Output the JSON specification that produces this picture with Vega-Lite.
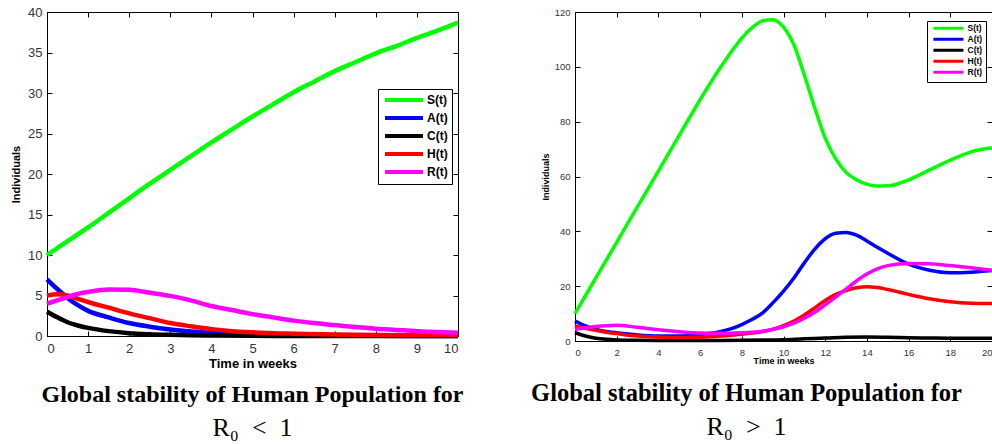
{
  "$schema": "https://vega.github.io/schema/vega-lite/v6.json",
  "background": "white",
  "padding": {"left": 10, "top": 5, "right": 0, "bottom": 0},
  "spacing": 117,
  "bounds": "flush",
  "resolve": {"scale": {"color": "independent"}, "legend": {"color": "independent"}},
  "config": {
    "view": {"stroke": "black", "strokeWidth": 1},
    "axis": {"grid": false, "domainColor": "black", "tickColor": "black", "labelFont": "Liberation Sans", "labelColor": "#333333", "titleFont": "Liberation Sans", "titleFontWeight": "bold", "titleColor": "black"},
    "legend": {"labelFont": "Liberation Sans", "labelFontWeight": "bold", "labelColor": "black"}
  },
  "datasets": {
    "low": [
      {"t": 0, "s": "S(t)", "v": 10}, {"t": 0.5, "s": "S(t)", "v": 11.7}, {"t": 1, "s": "S(t)", "v": 13.4}, {"t": 1.5, "s": "S(t)", "v": 15.2}, {"t": 2, "s": "S(t)", "v": 17.0}, {"t": 2.5, "s": "S(t)", "v": 18.8}, {"t": 3, "s": "S(t)", "v": 20.5}, {"t": 3.5, "s": "S(t)", "v": 22.2}, {"t": 4, "s": "S(t)", "v": 23.9}, {"t": 4.5, "s": "S(t)", "v": 25.5}, {"t": 5, "s": "S(t)", "v": 27.1}, {"t": 5.5, "s": "S(t)", "v": 28.6}, {"t": 6, "s": "S(t)", "v": 30.1}, {"t": 6.5, "s": "S(t)", "v": 31.4}, {"t": 7, "s": "S(t)", "v": 32.7}, {"t": 7.5, "s": "S(t)", "v": 33.8}, {"t": 8, "s": "S(t)", "v": 34.9}, {"t": 8.5, "s": "S(t)", "v": 35.8}, {"t": 9, "s": "S(t)", "v": 36.8}, {"t": 9.5, "s": "S(t)", "v": 37.7}, {"t": 10, "s": "S(t)", "v": 38.7},
      {"t": 0, "s": "A(t)", "v": 7.0}, {"t": 0.25, "s": "A(t)", "v": 5.8}, {"t": 0.5, "s": "A(t)", "v": 4.7}, {"t": 0.75, "s": "A(t)", "v": 3.8}, {"t": 1, "s": "A(t)", "v": 3.1}, {"t": 1.5, "s": "A(t)", "v": 2.3}, {"t": 2, "s": "A(t)", "v": 1.6}, {"t": 2.5, "s": "A(t)", "v": 1.15}, {"t": 3, "s": "A(t)", "v": 0.8}, {"t": 3.5, "s": "A(t)", "v": 0.55}, {"t": 4, "s": "A(t)", "v": 0.38}, {"t": 5, "s": "A(t)", "v": 0.18}, {"t": 6, "s": "A(t)", "v": 0.08}, {"t": 7, "s": "A(t)", "v": 0.04}, {"t": 8, "s": "A(t)", "v": 0.02}, {"t": 9, "s": "A(t)", "v": 0.01}, {"t": 10, "s": "A(t)", "v": 0.0},
      {"t": 0, "s": "C(t)", "v": 3.0}, {"t": 0.25, "s": "C(t)", "v": 2.3}, {"t": 0.5, "s": "C(t)", "v": 1.7}, {"t": 0.75, "s": "C(t)", "v": 1.3}, {"t": 1, "s": "C(t)", "v": 1.0}, {"t": 1.5, "s": "C(t)", "v": 0.6}, {"t": 2, "s": "C(t)", "v": 0.35}, {"t": 2.5, "s": "C(t)", "v": 0.22}, {"t": 3, "s": "C(t)", "v": 0.14}, {"t": 3.5, "s": "C(t)", "v": 0.08}, {"t": 4, "s": "C(t)", "v": 0.05}, {"t": 5, "s": "C(t)", "v": 0.02}, {"t": 6, "s": "C(t)", "v": 0.01}, {"t": 7, "s": "C(t)", "v": 0}, {"t": 8, "s": "C(t)", "v": 0}, {"t": 9, "s": "C(t)", "v": 0}, {"t": 10, "s": "C(t)", "v": 0},
      {"t": 0, "s": "H(t)", "v": 5.0}, {"t": 0.25, "s": "H(t)", "v": 5.15}, {"t": 0.5, "s": "H(t)", "v": 5.0}, {"t": 0.75, "s": "H(t)", "v": 4.6}, {"t": 1, "s": "H(t)", "v": 4.2}, {"t": 1.5, "s": "H(t)", "v": 3.5}, {"t": 2, "s": "H(t)", "v": 2.8}, {"t": 2.5, "s": "H(t)", "v": 2.2}, {"t": 3, "s": "H(t)", "v": 1.6}, {"t": 3.5, "s": "H(t)", "v": 1.2}, {"t": 4, "s": "H(t)", "v": 0.85}, {"t": 4.5, "s": "H(t)", "v": 0.6}, {"t": 5, "s": "H(t)", "v": 0.45}, {"t": 6, "s": "H(t)", "v": 0.28}, {"t": 7, "s": "H(t)", "v": 0.18}, {"t": 8, "s": "H(t)", "v": 0.12}, {"t": 9, "s": "H(t)", "v": 0.1}, {"t": 10, "s": "H(t)", "v": 0.08},
      {"t": 0, "s": "R(t)", "v": 4.0}, {"t": 0.25, "s": "R(t)", "v": 4.4}, {"t": 0.5, "s": "R(t)", "v": 4.8}, {"t": 0.75, "s": "R(t)", "v": 5.2}, {"t": 1, "s": "R(t)", "v": 5.45}, {"t": 1.5, "s": "R(t)", "v": 5.75}, {"t": 2, "s": "R(t)", "v": 5.7}, {"t": 2.5, "s": "R(t)", "v": 5.35}, {"t": 3, "s": "R(t)", "v": 4.95}, {"t": 3.5, "s": "R(t)", "v": 4.4}, {"t": 4, "s": "R(t)", "v": 3.7}, {"t": 4.5, "s": "R(t)", "v": 3.2}, {"t": 5, "s": "R(t)", "v": 2.7}, {"t": 5.5, "s": "R(t)", "v": 2.3}, {"t": 6, "s": "R(t)", "v": 1.9}, {"t": 6.5, "s": "R(t)", "v": 1.6}, {"t": 7, "s": "R(t)", "v": 1.35}, {"t": 7.5, "s": "R(t)", "v": 1.1}, {"t": 8, "s": "R(t)", "v": 0.9}, {"t": 8.5, "s": "R(t)", "v": 0.75}, {"t": 9, "s": "R(t)", "v": 0.6}, {"t": 9.5, "s": "R(t)", "v": 0.5}, {"t": 10, "s": "R(t)", "v": 0.4}
    ],
    "high": [
      {"t": 0, "s": "S(t)", "v": 10}, {"t": 1, "s": "S(t)", "v": 23}, {"t": 2, "s": "S(t)", "v": 36}, {"t": 3, "s": "S(t)", "v": 49}, {"t": 4, "s": "S(t)", "v": 62}, {"t": 5, "s": "S(t)", "v": 75}, {"t": 6, "s": "S(t)", "v": 88}, {"t": 7, "s": "S(t)", "v": 100}, {"t": 7.5, "s": "S(t)", "v": 105.5}, {"t": 8, "s": "S(t)", "v": 110.5}, {"t": 8.5, "s": "S(t)", "v": 114.3}, {"t": 9, "s": "S(t)", "v": 116.8}, {"t": 9.5, "s": "S(t)", "v": 117.2}, {"t": 10, "s": "S(t)", "v": 114.5}, {"t": 10.5, "s": "S(t)", "v": 108}, {"t": 11, "s": "S(t)", "v": 97}, {"t": 11.5, "s": "S(t)", "v": 85}, {"t": 12, "s": "S(t)", "v": 74}, {"t": 12.5, "s": "S(t)", "v": 66.5}, {"t": 13, "s": "S(t)", "v": 61.5}, {"t": 13.5, "s": "S(t)", "v": 58.8}, {"t": 14, "s": "S(t)", "v": 57.2}, {"t": 14.5, "s": "S(t)", "v": 56.5}, {"t": 15, "s": "S(t)", "v": 56.6}, {"t": 16, "s": "S(t)", "v": 58.8}, {"t": 17, "s": "S(t)", "v": 62.4}, {"t": 18, "s": "S(t)", "v": 66}, {"t": 19, "s": "S(t)", "v": 69}, {"t": 20, "s": "S(t)", "v": 70.5},
      {"t": 0, "s": "A(t)", "v": 7.3}, {"t": 0.5, "s": "A(t)", "v": 5.5}, {"t": 1, "s": "A(t)", "v": 4.2}, {"t": 1.5, "s": "A(t)", "v": 3.5}, {"t": 2, "s": "A(t)", "v": 3.0}, {"t": 3, "s": "A(t)", "v": 2.2}, {"t": 4, "s": "A(t)", "v": 1.8}, {"t": 5, "s": "A(t)", "v": 1.8}, {"t": 6, "s": "A(t)", "v": 2.3}, {"t": 7, "s": "A(t)", "v": 3.5}, {"t": 7.5, "s": "A(t)", "v": 4.5}, {"t": 8, "s": "A(t)", "v": 6}, {"t": 8.5, "s": "A(t)", "v": 7.9}, {"t": 9, "s": "A(t)", "v": 10.3}, {"t": 9.5, "s": "A(t)", "v": 14}, {"t": 10, "s": "A(t)", "v": 18.2}, {"t": 10.5, "s": "A(t)", "v": 23}, {"t": 11, "s": "A(t)", "v": 28.5}, {"t": 11.5, "s": "A(t)", "v": 33.5}, {"t": 12, "s": "A(t)", "v": 37.3}, {"t": 12.5, "s": "A(t)", "v": 39.3}, {"t": 13, "s": "A(t)", "v": 39.6}, {"t": 13.5, "s": "A(t)", "v": 38.6}, {"t": 14, "s": "A(t)", "v": 36.5}, {"t": 14.5, "s": "A(t)", "v": 34.2}, {"t": 15, "s": "A(t)", "v": 32}, {"t": 16, "s": "A(t)", "v": 28}, {"t": 17, "s": "A(t)", "v": 25.8}, {"t": 18, "s": "A(t)", "v": 24.9}, {"t": 19, "s": "A(t)", "v": 25.1}, {"t": 20, "s": "A(t)", "v": 25.7},
      {"t": 0, "s": "C(t)", "v": 3.0}, {"t": 0.5, "s": "C(t)", "v": 1.8}, {"t": 1, "s": "C(t)", "v": 1.0}, {"t": 1.5, "s": "C(t)", "v": 0.6}, {"t": 2, "s": "C(t)", "v": 0.4}, {"t": 3, "s": "C(t)", "v": 0.25}, {"t": 4, "s": "C(t)", "v": 0.2}, {"t": 5, "s": "C(t)", "v": 0.2}, {"t": 6, "s": "C(t)", "v": 0.2}, {"t": 7, "s": "C(t)", "v": 0.2}, {"t": 8, "s": "C(t)", "v": 0.25}, {"t": 9, "s": "C(t)", "v": 0.35}, {"t": 10, "s": "C(t)", "v": 0.5}, {"t": 11, "s": "C(t)", "v": 0.8}, {"t": 12, "s": "C(t)", "v": 1.05}, {"t": 13, "s": "C(t)", "v": 1.35}, {"t": 14, "s": "C(t)", "v": 1.45}, {"t": 15, "s": "C(t)", "v": 1.35}, {"t": 16, "s": "C(t)", "v": 1.2}, {"t": 17, "s": "C(t)", "v": 1.1}, {"t": 18, "s": "C(t)", "v": 1.0}, {"t": 19, "s": "C(t)", "v": 1.0}, {"t": 20, "s": "C(t)", "v": 1.0},
      {"t": 0, "s": "H(t)", "v": 5.5}, {"t": 0.5, "s": "H(t)", "v": 4.6}, {"t": 1, "s": "H(t)", "v": 3.9}, {"t": 1.5, "s": "H(t)", "v": 3.2}, {"t": 2, "s": "H(t)", "v": 2.7}, {"t": 3, "s": "H(t)", "v": 1.8}, {"t": 4, "s": "H(t)", "v": 1.45}, {"t": 5, "s": "H(t)", "v": 1.3}, {"t": 6, "s": "H(t)", "v": 1.4}, {"t": 7, "s": "H(t)", "v": 1.8}, {"t": 7.5, "s": "H(t)", "v": 2.1}, {"t": 8, "s": "H(t)", "v": 2.5}, {"t": 8.5, "s": "H(t)", "v": 2.9}, {"t": 9, "s": "H(t)", "v": 3.5}, {"t": 9.5, "s": "H(t)", "v": 4.3}, {"t": 10, "s": "H(t)", "v": 5.6}, {"t": 10.5, "s": "H(t)", "v": 7.3}, {"t": 11, "s": "H(t)", "v": 9.5}, {"t": 11.5, "s": "H(t)", "v": 12.1}, {"t": 12, "s": "H(t)", "v": 14.8}, {"t": 12.5, "s": "H(t)", "v": 17.0}, {"t": 13, "s": "H(t)", "v": 18.4}, {"t": 13.5, "s": "H(t)", "v": 19.4}, {"t": 14, "s": "H(t)", "v": 19.8}, {"t": 14.5, "s": "H(t)", "v": 19.5}, {"t": 15, "s": "H(t)", "v": 18.8}, {"t": 16, "s": "H(t)", "v": 17.0}, {"t": 17, "s": "H(t)", "v": 15.4}, {"t": 18, "s": "H(t)", "v": 14.3}, {"t": 19, "s": "H(t)", "v": 13.8}, {"t": 20, "s": "H(t)", "v": 13.7},
      {"t": 0, "s": "R(t)", "v": 4.2}, {"t": 0.5, "s": "R(t)", "v": 4.8}, {"t": 1, "s": "R(t)", "v": 5.3}, {"t": 1.5, "s": "R(t)", "v": 5.6}, {"t": 2, "s": "R(t)", "v": 5.7}, {"t": 3, "s": "R(t)", "v": 5.0}, {"t": 4, "s": "R(t)", "v": 4.1}, {"t": 5, "s": "R(t)", "v": 3.4}, {"t": 6, "s": "R(t)", "v": 2.9}, {"t": 7, "s": "R(t)", "v": 2.8}, {"t": 7.5, "s": "R(t)", "v": 2.85}, {"t": 8, "s": "R(t)", "v": 3.0}, {"t": 8.5, "s": "R(t)", "v": 3.2}, {"t": 9, "s": "R(t)", "v": 3.6}, {"t": 9.5, "s": "R(t)", "v": 4.3}, {"t": 10, "s": "R(t)", "v": 5.2}, {"t": 10.5, "s": "R(t)", "v": 6.5}, {"t": 11, "s": "R(t)", "v": 8.3}, {"t": 11.5, "s": "R(t)", "v": 10.5}, {"t": 12, "s": "R(t)", "v": 13.2}, {"t": 12.5, "s": "R(t)", "v": 16.0}, {"t": 13, "s": "R(t)", "v": 18.9}, {"t": 13.5, "s": "R(t)", "v": 21.9}, {"t": 14, "s": "R(t)", "v": 24.4}, {"t": 14.5, "s": "R(t)", "v": 26.3}, {"t": 15, "s": "R(t)", "v": 27.5}, {"t": 16, "s": "R(t)", "v": 28.3}, {"t": 17, "s": "R(t)", "v": 28.2}, {"t": 18, "s": "R(t)", "v": 27.5}, {"t": 19, "s": "R(t)", "v": 26.7}, {"t": 20, "s": "R(t)", "v": 25.8}
    ]
  },
  "hconcat": [
    {
      "width": 411,
      "height": 324,
      "data": {"name": "low"},
      "title": {"text": "Global stability of Human Population for", "subtitle": "R₀\u2002<\u20021", "orient": "bottom", "anchor": "middle", "font": "Liberation Serif", "fontSize": 24, "fontWeight": "bold", "color": "black", "subtitleFont": "Liberation Serif", "subtitleFontSize": 26, "subtitleColor": "black", "subtitlePadding": 8, "offset": 13},
      "resolve": {"axis": {"x": "independent", "y": "independent"}},
      "layer": [
        {
          "mark": {"type": "line", "strokeWidth": 4.5, "interpolate": "monotone"},
          "encoding": {
            "x": {"field": "t", "type": "quantitative", "scale": {"domain": [0, 10], "nice": false}, "axis": {"values": [0,1,2,3,4,5,6,7,8,9,10], "title": "Time in weeks", "titleFontSize": 13, "labelFontSize": 13, "tickSize": -5, "labelPadding": 11, "titlePadding": 2}},
            "y": {"field": "v", "type": "quantitative", "scale": {"domain": [0, 40], "nice": false}, "axis": {"values": [0,5,10,15,20,25,30,35,40], "title": "Individuals", "titleFontSize": 11, "labelFontSize": 13, "tickSize": -5, "labelPadding": 10, "titlePadding": 6}},
            "color": {"field": "s", "type": "nominal", "scale": {"domain": ["S(t)", "A(t)", "C(t)", "H(t)", "R(t)"], "range": ["#00ff00", "#0000ff", "#000000", "#ff0000", "#ff00ff"]},
              "legend": {"title": null, "orient": "none", "legendX": 331, "legendY": 77, "strokeColor": "black", "fillColor": "white", "padding": 4, "symbolType": "M-3.8,0H3.8", "symbolSize": 100, "symbolStrokeWidth": 4, "symbolOffset": 15, "labelOffset": 16, "labelFontSize": 12, "rowPadding": 2}}
          }
        },
        {
          "mark": {"type": "line", "opacity": 0},
          "encoding": {
            "x": {"field": "t", "type": "quantitative", "axis": {"orient": "top", "values": [0,1,2,3,4,5,6,7,8,9,10], "labels": false, "title": null, "tickSize": -5}},
            "y": {"field": "v", "type": "quantitative", "axis": {"orient": "right", "values": [0,5,10,15,20,25,30,35,40], "labels": false, "title": null, "tickSize": -5}}
          }
        }
      ]
    },
    {
      "width": 417,
      "height": 329,
      "data": {"name": "high"},
      "title": {"text": "Global stability of Human Population for", "subtitle": "R₀\u2002>\u20021", "orient": "bottom", "anchor": "middle", "dx": -37, "font": "Liberation Serif", "fontSize": 24.5, "fontWeight": "bold", "color": "black", "subtitleFont": "Liberation Serif", "subtitleFontSize": 26, "subtitleColor": "black", "subtitlePadding": 8, "offset": 16},
      "resolve": {"axis": {"x": "independent", "y": "independent"}},
      "layer": [
        {
          "mark": {"type": "line", "strokeWidth": 3.5, "interpolate": "monotone"},
          "encoding": {
            "x": {"field": "t", "type": "quantitative", "scale": {"domain": [0, 20], "nice": false}, "axis": {"values": [0,2,4,6,8,10,12,14,16,18,20], "title": "Time in weeks", "titleFontSize": 9, "labelFontSize": 9.5, "tickSize": -5, "labelPadding": 11, "titlePadding": 0}},
            "y": {"field": "v", "type": "quantitative", "scale": {"domain": [0, 120], "nice": false}, "axis": {"values": [0,20,40,60,80,100,120], "title": "Individuals", "titleFontSize": 9, "labelFontSize": 9.5, "tickSize": -5, "labelPadding": 10, "titlePadding": 4}},
            "color": {"field": "s", "type": "nominal", "scale": {"domain": ["S(t)", "A(t)", "C(t)", "H(t)", "R(t)"], "range": ["#00ff00", "#0000ff", "#000000", "#ff0000", "#ff00ff"]},
              "legend": {"title": null, "orient": "none", "legendX": 352, "legendY": 9, "strokeColor": "black", "fillColor": "white", "padding": 3, "symbolType": "M-6,0H6", "symbolSize": 25, "symbolStrokeWidth": 3, "symbolOffset": 14.2, "labelOffset": 14.8, "labelFontSize": 8.5, "rowPadding": -2.5}}
          }
        },
        {
          "mark": {"type": "line", "opacity": 0},
          "encoding": {
            "x": {"field": "t", "type": "quantitative", "axis": {"orient": "top", "values": [0,2,4,6,8,10,12,14,16,18,20], "labels": false, "title": null, "tickSize": -5}},
            "y": {"field": "v", "type": "quantitative", "axis": {"orient": "right", "values": [0,20,40,60,80,100,120], "labels": false, "title": null, "tickSize": -5}}
          }
        }
      ]
    }
  ]
}
